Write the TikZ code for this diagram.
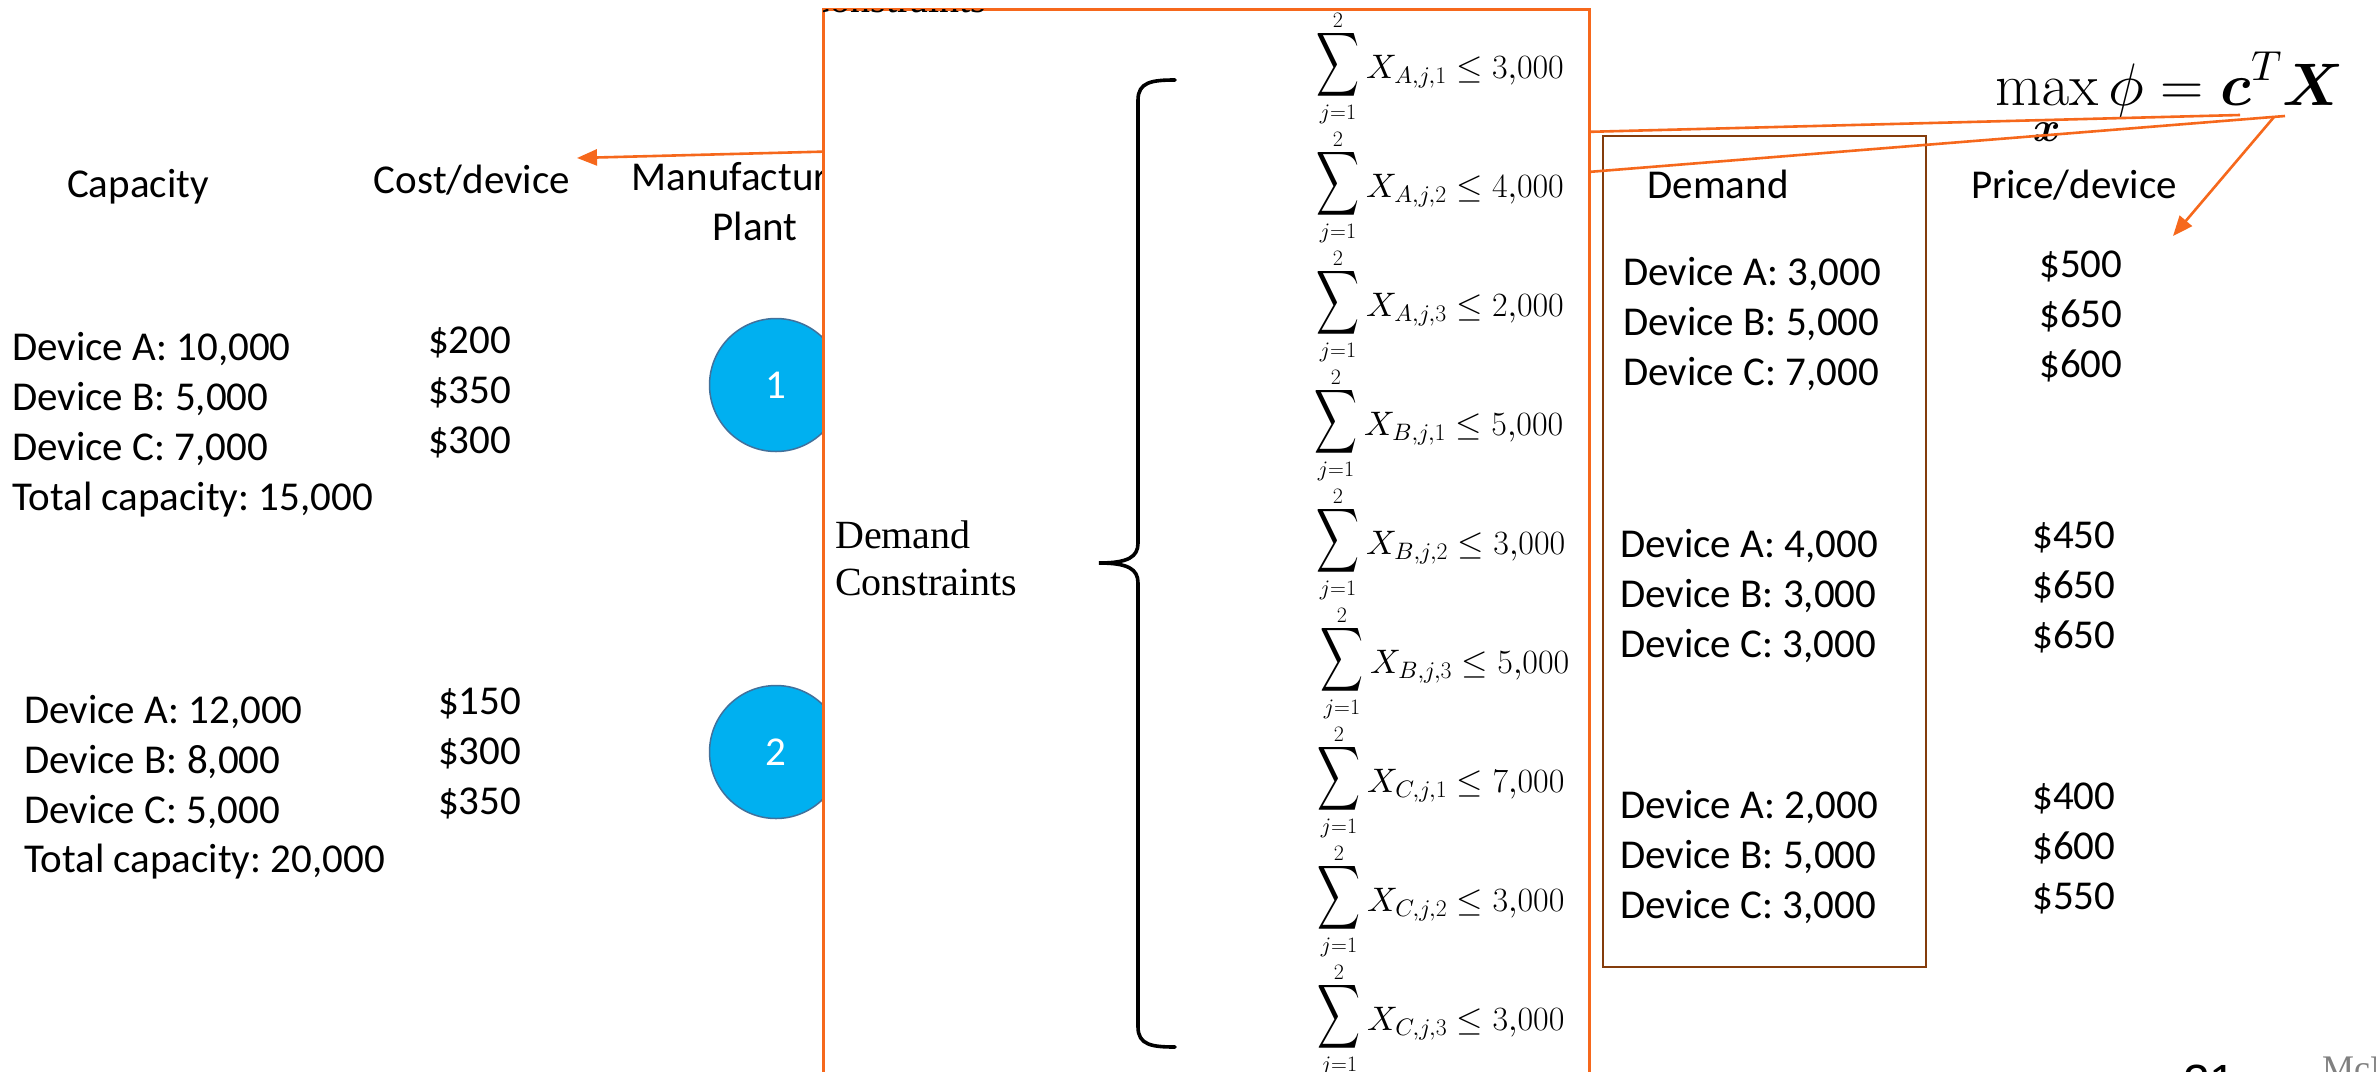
\RequirePackage{fix-cm}
\documentclass[tikz,border=0pt]{standalone}
\usepackage{amsmath}
\usepackage[no-math]{fontspec}
\usepackage{graphicx}
\setmainfont{Carlito}
\newfontfamily\tnr{Liberation Serif}
\newfontfamily\arialf{Liberation Sans}
\usetikzlibrary{arrows.meta}
\definecolor{orng}{RGB}{246,104,28}
\definecolor{brwn}{RGB}{132,60,12}
\definecolor{cyanfill}{RGB}{0,176,240}
\definecolor{cborder}{RGB}{65,113,156}
\DeclareFontShape{OML}{cmm}{m}{it}{<->cmmi10}{}
\DeclareFontShape{OML}{cmm}{b}{it}{<->cmmib10}{}
\DeclareFontShape{OMS}{cmsy}{m}{n}{<->cmsy10}{}
\DeclareFontShape{OMS}{cmsy}{b}{n}{<->cmbsy10}{}
\DeclareFontShape{OMX}{cmex}{m}{n}{<->cmex10}{}
\frenchspacing
\begin{document}
\begin{tikzpicture}[x=1pt,y=-1pt,
  lbl/.style={inner sep=0pt, anchor=base west, font=\fontsize{41}{50}\selectfont},
  hdr/.style={inner sep=0pt, anchor=base, font=\fontsize{41}{50}\selectfont},
  plant/.style={circle, fill=cyanfill, draw=cborder, line width=1.5pt, minimum size=133pt, inner sep=0pt, text=white, font=\fontsize{41}{50}\selectfont},
  oline/.style={draw=orng, line width=2.6pt},
  otip/.style={-{Triangle[length=20pt,width=16pt]}},
  serif/.style={inner sep=0pt, anchor=base west, font=\tnr\fontsize{40}{47}\selectfont},
  sigma/.style={inner sep=0pt, anchor=center, font=\fontsize{32}{38}\selectfont},
  limit/.style={inner sep=0pt, anchor=base, font=\fontsize{22}{26}\selectfont},
  sumrow/.style={inner sep=0pt, anchor=base west, font=\fontsize{34}{40}\selectfont}]
\useasboundingbox (0,0) rectangle (2376,1071);
\clip (0,0) rectangle (2376,1071);
\fill[white] (0,0) rectangle (2376,1071);

% left headers
\node[hdr] (hcap) at (138,197) {Capacity};
\node[hdr] (hcost) at (472,193) {Cost/device};
\node[hdr] (hman) at (755,190) {Manufacturing};
\node[hdr] (hplant) at (755,240) {Plant};

% plant 1
\node[lbl] (c1a) at (12,360) {Device A: 10,000};
\node[lbl] (c1b) at (12,410) {Device B: 5,000};
\node[lbl] (c1c) at (12,460) {Device C: 7,000};
\node[lbl] (c1t) at (12,510) {Total capacity: 15,000};
\node[lbl] (k1a) at (428,353) {\$200};
\node[lbl] (k1b) at (428,403) {\$350};
\node[lbl] (k1c) at (428,453) {\$300};
\node[plant] (p1) at (776,385) {1};

% plant 2
\node[lbl] (c2a) at (24,723) {Device A: 12,000};
\node[lbl] (c2b) at (24,773) {Device B: 8,000};
\node[lbl] (c2c) at (24,823) {Device C: 5,000};
\node[lbl] (c2t) at (24,872) {Total capacity: 20,000};
\node[lbl] (k2a) at (438,714) {\$150};
\node[lbl] (k2b) at (438,764) {\$300};
\node[lbl] (k2c) at (438,814) {\$350};
\node[plant] (p2) at (776,752) {2};

% demand box and right columns
\node[draw=brwn, line width=2.6pt, minimum width=323pt, minimum height=831pt, inner sep=0pt] (dbox) at (1764.5,551.5) {};
\node[hdr] (hdem) at (1718,198) {Demand};
\node[hdr] (hprice) at (2074,198) {Price/device};

\node[lbl] (d1a) at (1623,285) {Device A: 3,000};
\node[lbl] (d1b) at (1623,335) {Device B: 5,000};
\node[lbl] (d1c) at (1623,385) {Device C: 7,000};
\node[lbl] (d2a) at (1620,557) {Device A: 4,000};
\node[lbl] (d2b) at (1620,607) {Device B: 3,000};
\node[lbl] (d2c) at (1620,657) {Device C: 3,000};
\node[lbl] (d3a) at (1620,818) {Device A: 2,000};
\node[lbl] (d3b) at (1620,868) {Device B: 5,000};
\node[lbl] (d3c) at (1620,918) {Device C: 3,000};

\node[lbl] (r1a) at (2039,277) {\$500};
\node[lbl] (r1b) at (2039,327) {\$650};
\node[lbl] (r1c) at (2039,377) {\$600};
\node[lbl] (r2a) at (2032,548) {\$450};
\node[lbl] (r2b) at (2032,598) {\$650};
\node[lbl] (r2c) at (2032,648) {\$650};
\node[lbl] (r3a) at (2032,809) {\$400};
\node[lbl] (r3b) at (2032,859) {\$600};
\node[lbl] (r3c) at (2032,909) {\$550};

% objective
\node[inner sep=0pt, anchor=base west, font=\fontsize{60}{72}\selectfont] (obj) at (1995,105)
  {$\displaystyle\max_{\boldsymbol{x}}\phi=\boldsymbol{c}^{T}\boldsymbol{X}$};
\coordinate (fc) at (2240,115);
\coordinate (fX) at (2285,116);
\coordinate (fA) at (2274,117);
\coordinate (costtip) at (577,158);
\coordinate (l2end) at (1588,172);
\coordinate (pricetip) at (2173,236);

\draw[oline, otip] (fc) -- (costtip);
\draw[oline] (fX) -- (l2end);
\draw[oline, otip] (fA) -- (pricetip);

% constraint panel
\node[draw=orng, fill=white, line width=2.6pt, minimum width=766pt, minimum height=1100pt, inner sep=0pt, anchor=north west] (panel) at (822,8) {};
\begin{scope}
\clip (823.5,9.5) rectangle (1586.5,1071);
\node[serif] (topc) at (804,12) {Constraints};
\end{scope}
\node[serif] (dc1) at (835,548) {Demand};
\node[serif] (dc2) at (835,595) {Constraints};
\draw[line width=3.6pt, line cap=round] (1175,80) .. controls (1152,80) and (1138,82) .. (1138,100)
  -- (1138,543) .. controls (1138,557) and (1128,563) .. (1099,563)
  .. controls (1128,563) and (1138,569) .. (1138,583)
  -- (1138,1027) .. controls (1138,1045) and (1152,1047) .. (1175,1047);
\foreach \d/\p/\v/\dx [count=\k] in {A/1/3/0,A/2/4/0,A/3/2/0,B/1/5/-2,B/2/3/0,B/3/5/4,C/1/7/1,C/2/3/1,C/3/3/1}{
  \pgfmathsetmacro{\yy}{119*(\k-1)}
  \node[sigma] (sig\k) at ({1338+\dx},{65+\yy}) {\scalebox{0.93}[1.4]{$\displaystyle\sum$}};
  \node[limit] (up\k) at ({1338+\dx},{27+\yy}) {$2$};
  \node[limit] (lo\k) at ({1338+\dx},{119+\yy}) {$j{=}1$};
  \node[sumrow] (ex\k) at ({1366+\dx},{78+\yy}) {$X_{\d,j,\p} \le \v{,}000$};
}

% footer fragments
\node[inner sep=0pt, anchor=north west, font=\arialf\fontsize{48}{56}\selectfont] (pgno) at (2183,1065) {21};
\node[inner sep=0pt, anchor=north west, text=gray, font=\tnr\fontsize{36}{42}\selectfont] (mcm) at (2322,1057) {McM};
\end{tikzpicture}
\end{document}
